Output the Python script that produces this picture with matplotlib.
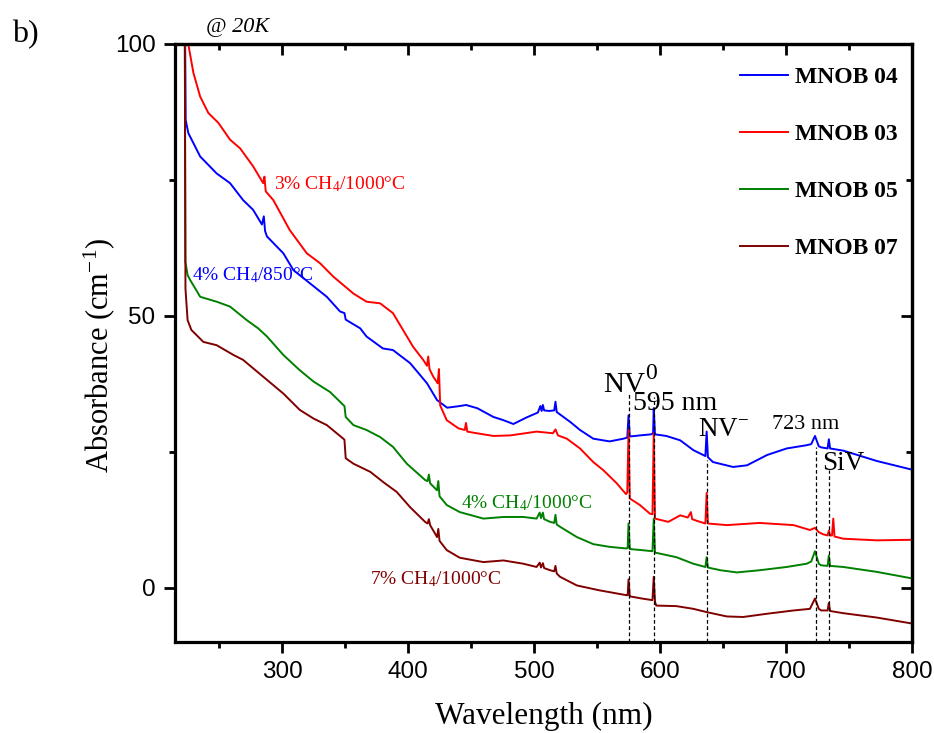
import matplotlib
matplotlib.use("Agg")
import matplotlib.pyplot as plt
from matplotlib.ticker import MultipleLocator

plt.rcParams['font.family'] = ['Liberation Sans', 'DejaVu Sans']
plt.rcParams['mathtext.fontset'] = 'custom'
plt.rcParams['mathtext.rm'] = 'Liberation Serif'
plt.rcParams['mathtext.it'] = 'Liberation Serif:italic'
plt.rcParams['mathtext.bf'] = 'Liberation Serif:bold'

# ---- data ----
wl_04 = [223, 223.5, 225.6, 235, 248, 258.7, 269, 277, 284, 285.5, 286.5, 288, 301, 309, 322, 335.5, 346,
         349.5, 350.5, 362, 367, 380, 388, 401.6, 415, 423, 431, 441, 446, 455, 467.7, 475.7, 483.6, 494,
         503, 505, 506, 507, 508, 512, 516, 517, 518, 528.6, 536.5, 547, 560, 571, 574, 575, 576, 584, 593,
         594.5, 595, 596, 605, 616, 626.4, 636, 637, 638, 642, 658, 669, 685, 700.5, 716.4, 720, 723, 726,
         728, 733, 734, 735, 745.5, 772, 800]
abs_04 = [102, 86, 83.6, 79.3, 76.2, 74.4, 71.3, 69.5, 66.8, 68.3, 65.6, 64.6, 61.5, 58.4, 56, 53.5, 50.8,
          50.5, 49.3, 47.7, 46.2, 44, 43.7, 41.3, 37.6, 34.5, 33.1, 33.4, 33.6, 33.0, 31.4, 30.8, 30.1, 31.3,
          32.2, 33.4, 32.5, 33.6, 32.6, 32.5, 32.6, 34.2, 32.3, 30.5, 29.0, 27.4, 26.9, 27.4, 27.6, 31.7, 27.8,
          28.0, 28.2, 28.4, 33.0, 28.2, 27.9, 27.1, 25.3, 24.2, 28.7, 24.0, 23.1, 22.2, 22.5, 24.4, 25.6, 26.2,
          26.4, 27.9, 26.0, 25.8, 25.6, 27.3, 25.6, 25.2, 23.3, 21.7]

wl_03 = [224.5, 225.6, 229.6, 235, 241.5, 249.4, 258.7, 266.7, 277, 285, 286, 287, 293, 306, 319.6, 330,
         340.7, 356.6, 367, 377.8, 388, 396, 404, 412, 415, 416, 417, 420, 423.5, 424.5, 425.5, 430.7, 440,
         445, 446, 447, 454.5, 467.7, 481, 502, 515, 517, 519, 526, 536.5, 547, 555, 565.6, 573, 574, 575,
         576, 584, 592, 594, 595, 596, 606.6, 616, 622, 624.5, 625.5, 629, 636, 637, 638, 653, 679, 706, 719,
         723, 726, 729.6, 733, 734, 735, 736.5, 737.5, 738.5, 745.5, 772, 800]
abs_03 = [102, 99.9, 94.7, 90.3, 87.3, 85.5, 82.4, 80.8, 77.5, 74.4, 75.6, 72.9, 71.3, 65.8, 61.5, 59.7,
          57.2, 54.1, 52.6, 52.3, 50.5, 47.4, 44.3, 41.9, 40.8, 42.5, 40.2, 38.8, 37.6, 40.2, 33.5, 30.8, 29.3,
          29.0, 30.3, 28.7, 28.4, 27.9, 28.0, 28.7, 28.4, 29.1, 28.0, 27.4, 25.6, 23.1, 21.6, 19.2, 17.2, 17.5,
          29.0, 16.4, 15.2, 13.6, 13.5, 28.4, 12.7, 12.1, 13.3, 12.9, 13.9, 12.6, 12.3, 11.8, 17.4, 11.8, 11.5,
          11.9, 11.5, 10.6, 11.0, 10.2, 9.8, 9.6, 10.5, 9.6, 9.6, 12.7, 9.4, 9.0, 8.7, 8.8]

wl_05 = [222.8, 223.2, 225, 227, 235, 248, 258.7, 272, 281, 288, 301, 314, 325, 338, 348.6, 349.5, 350.5,
         356.6, 367, 377.8, 388, 399, 413.5, 415.5, 416.5, 417.5, 423, 424, 425, 430.7, 441, 459.8, 475.7,
         491.5, 502, 504.5, 505.5, 507, 508, 512.7, 516, 517, 518, 520.6, 534, 547, 560, 573.6, 574.3, 575,
         576, 585.5, 594, 595, 596, 597, 613, 626.4, 636, 637, 638, 648, 661, 679, 700.5, 716.4, 720, 723,
         726, 728, 733, 734, 735, 745.5, 772, 800]
abs_05 = [102, 60, 57.5, 56.6, 53.5, 52.6, 51.7, 49.2, 47.7, 46.2, 42.8, 40, 37.9, 36, 33.6, 33.4, 31.4,
          29.9, 29, 27.7, 25.9, 22.8, 19.8, 19.6, 20.8, 19.2, 17.9, 19.6, 16.8, 15.2, 13.9, 12.7, 13.0, 13.0,
          12.7, 13.8, 12.8, 13.8, 12.6, 12.1, 11.9, 13.4, 11.6, 11.2, 9.3, 8.0, 7.5, 7.2, 7.3, 11.8, 7.1, 6.9,
          6.7, 12.7, 6.4, 6.4, 5.6, 4.4, 3.8, 5.6, 3.7, 3.2, 2.8, 3.2, 3.8, 4.4, 4.8, 6.7, 4.4, 4.1, 4.0, 5.9,
          4.0, 3.8, 2.9, 1.7]

wl_07 = [222.8, 223.3, 225, 228, 237.5, 248, 261.4, 269, 285, 301, 314, 325, 335.5, 348.6, 349.5, 350.5,
         356.6, 370, 380.4, 391, 401.6, 413.5, 415.5, 416.5, 417.5, 423, 424, 425, 430.7, 441, 459.8, 475.7,
         491.5, 502, 504.5, 505.5, 507, 508, 512.7, 516, 517, 518, 520.6, 534, 552, 573.6, 574.3, 575, 576,
         585.5, 594, 595, 596, 597, 613, 626.4, 637, 653, 666, 685, 706, 719, 723, 726, 728, 733, 734, 735,
         745.5, 772, 800]
abs_07 = [102, 55, 49.2, 47.4, 45.2, 44.6, 42.8, 41.9, 38.8, 35.7, 32.7, 31.1, 29.9, 27.4, 27.2, 23.8,
          22.8, 21.3, 19.4, 17.6, 14.8, 12.1, 11.8, 12.6, 11.5, 9.3, 10.8, 8.6, 6.9, 5.5, 4.7, 5.0, 4.4, 3.8,
          4.6, 3.7, 4.5, 3.6, 3.2, 3.0, 4.0, 2.6, 2.0, 0.4, -0.5, -1.4, -1.4, 1.5, -1.6, -2.0, -2.3, 2.0, -2.6,
          -3.3, -3.4, -3.9, -4.5, -5.3, -5.4, -4.8, -4.2, -3.9, -2.0, -3.9, -4.2, -4.2, -2.8, -4.3, -4.7, -5.5,
          -6.6]

series_labels = ['MNOB 04', 'MNOB 03', 'MNOB 05', 'MNOB 07']
series_colors = ['#0000ff', '#ff0000', '#008000', '#800000']

peak_positions = [575, 595, 637, 723.5, 734]
peak_line_tops = [36, 35, 23.4, 25.8, 21.6]

x_ticks = [300, 400, 500, 600, 700, 800]
y_ticks = [0, 50, 100]

# ---- figure ----
fig = plt.figure(figsize=(9.34, 7.33), dpi=100)
ax = fig.add_axes([175 / 934, 1 - 642 / 733, (912 - 175) / 934, (642 - 44) / 733])

series = [(wl_04, abs_04), (wl_03, abs_03), (wl_05, abs_05), (wl_07, abs_07)]
for (xs, ys), lab, col in zip(series, series_labels, series_colors):
    ax.plot(xs, ys, color=col, lw=1.4, label=lab)

ax.vlines(peak_positions, -10, peak_line_tops, colors='black', linestyles=(0, (3, 2)), lw=0.9)

ax.set_xlim(215, 800)
ax.set_ylim(-10, 100)
ax.set_xticks(x_ticks)
ax.set_yticks(y_ticks)
ax.xaxis.set_minor_locator(MultipleLocator(50))
ax.yaxis.set_minor_locator(MultipleLocator(25))

for s in ax.spines.values():
    s.set_linewidth(2.3)
ax.tick_params(which='major', direction='out', length=8, width=2, labelsize=17.5, pad=6)
ax.tick_params(which='minor', direction='out', length=4.5, width=2)

secx = ax.secondary_xaxis('top')
secx.set_xticks(x_ticks)
secx.xaxis.set_minor_locator(MultipleLocator(50))
secx.tick_params(which='major', direction='in', length=8, width=2, labeltop=False)
secx.tick_params(which='minor', direction='in', length=4.5, width=2)
secx.spines['top'].set_linewidth(2.3)
secy = ax.secondary_yaxis('right')
secy.set_yticks(y_ticks)
secy.yaxis.set_minor_locator(MultipleLocator(25))
secy.tick_params(which='major', direction='in', length=8, width=2, labelright=False)
secy.tick_params(which='minor', direction='in', length=4.5, width=2)
secy.spines['right'].set_linewidth(2.3)

ax.set_xlabel('Wavelength (nm)', family='Liberation Serif', fontsize=22.5, labelpad=13)
ax.set_ylabel('Absorbance (cm$^{-1}$)', family='Liberation Serif', fontsize=22)
ax.yaxis.set_label_coords(-0.079, 0.48)

leg = ax.legend(loc='upper right', frameon=False, prop={'family': 'Liberation Serif', 'weight': 'bold', 'size': 17},
                handlelength=2.0, labelspacing=1.5, borderaxespad=0.0, handletextpad=0.3,
                bbox_to_anchor=(0.993, 0.978))

serif = 'Liberation Serif'
ax.text(293.7, 73.2, '3% CH$_4$/1000°C', color='#ff0000', family=serif, fontsize=14, va='baseline')
ax.text(228.3, 56.6, '4% CH$_4$/850°C', color='#0000ff', family=serif, fontsize=14, va='baseline')
ax.text(442, 14.6, '4% CH$_4$/1000°C', color='#008000', family=serif, fontsize=14, va='baseline')
ax.text(369.8, 0.6, '7% CH$_4$/1000°C', color='#800000', family=serif, fontsize=14, va='baseline')
ax.text(554.8, 35.9, 'NV', color='black', family=serif, fontsize=21, va='baseline')
ax.text(588, 38.3, '0', color='black', family=serif, fontsize=17, va='baseline')
ax.text(578.6, 32.6, '595 nm', color='black', family=serif, fontsize=20, va='baseline')
ax.text(630, 27.9, 'NV$^{-}$', color='black', family=serif, fontsize=19.5, va='baseline')
ax.text(689, 29.2, '723 nm', color='black', family=serif, fontsize=16, va='baseline')
ax.text(728.6, 21.7, 'SiV', color='black', family=serif, fontsize=19.5, va='baseline')

fig.text(206 / 934, 1 - 31.7 / 733, '@ 20K', family=serif, style='italic', fontsize=16, va='baseline')
fig.text(12 / 934, 1 - 42 / 733, 'b)', family=serif, fontsize=23, va='baseline')

fig.savefig('out.png', dpi=100)
